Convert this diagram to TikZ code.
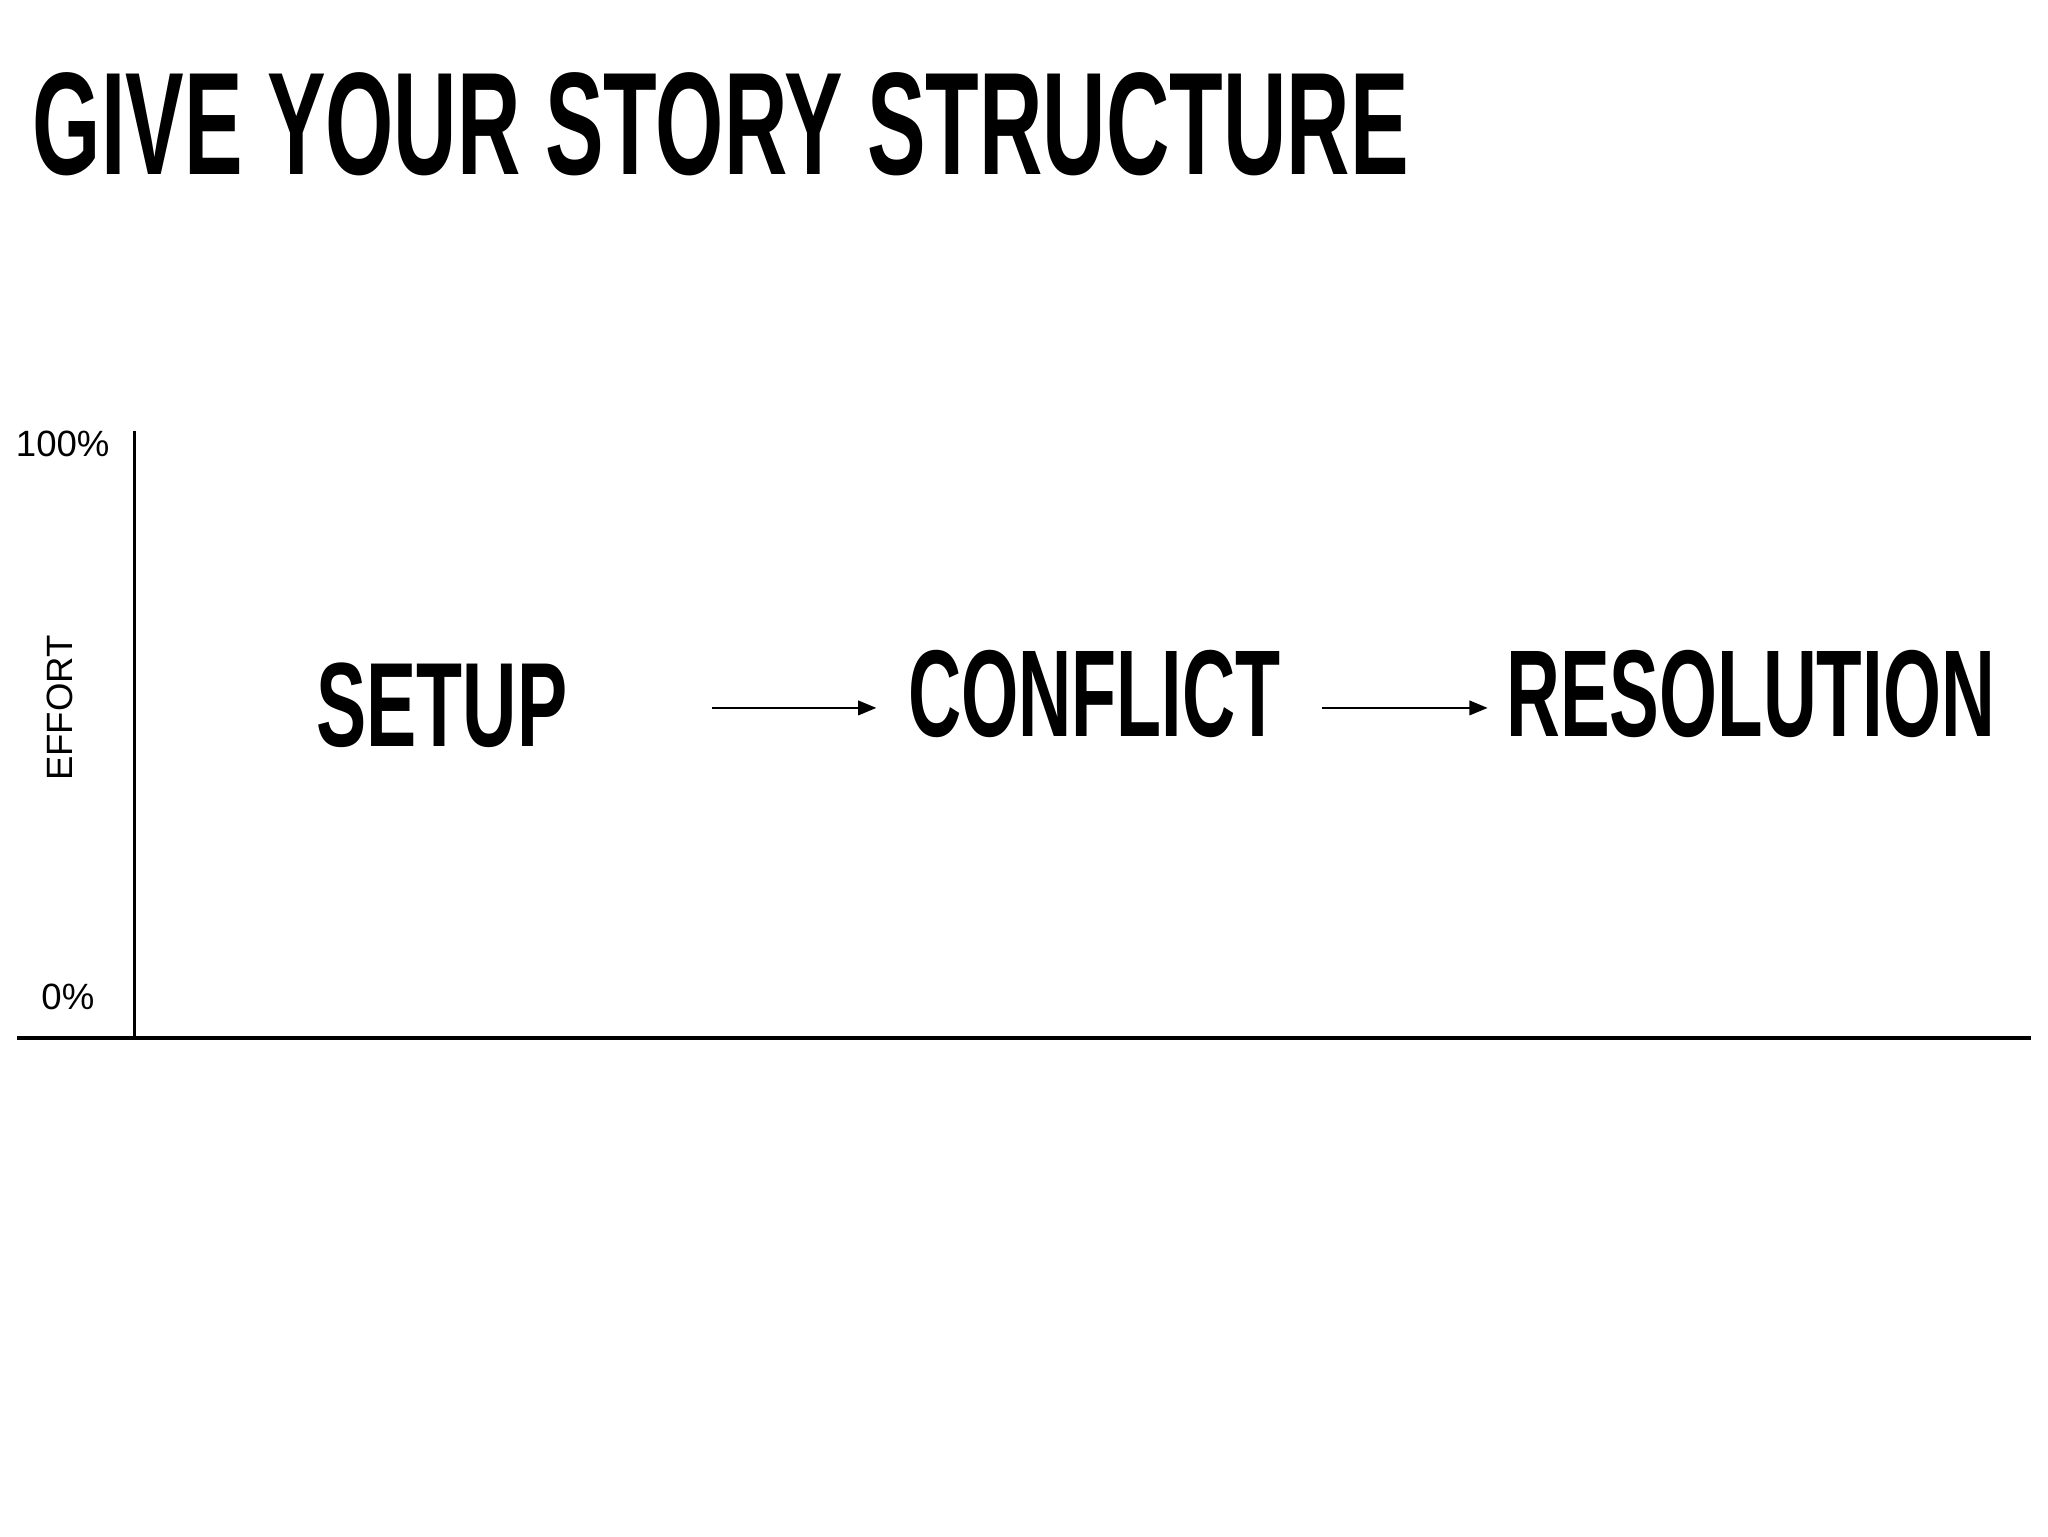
\documentclass[tikz,border=0pt]{standalone}
\usepackage{fontspec}
\setmainfont{Liberation Sans}
\usepackage{graphicx}
\usetikzlibrary{arrows.meta}
\tikzset{
  big/.style={inner sep=0pt, anchor=south west, font=\bfseries},
  small/.style={inner sep=0pt, font=\fontsize{28}{30}\selectfont},
  axis/.style={line width=3pt},
  flow/.style={line width=2pt, -{Triangle[length=14pt,width=11pt]}}
}
\newcommand{\fitbox}[3]{\resizebox{#1pt}{#2pt}{#3}}
\begin{document}
\begin{tikzpicture}[x=1pt,y=-1pt]
\useasboundingbox (0,0) rectangle (1568,1176);
\node[big] (title) at (25,135) {\fitbox{1053}{78}{GIVE YOUR STORY STRUCTURE}};
\coordinate (ytop) at (103,330);
\coordinate (orig) at (103,795);
\coordinate (xl) at (13,795);
\coordinate (xr) at (1555,795);
\draw[axis] (ytop) -- (orig);
\draw[axis] (xl) -- (xr);
\node[small] (p100) at (48,340) {100\%};
\node[small] (p0) at (52,763) {0\%};
\node[small, rotate=90] (eff) at (46,542) {EFFORT};
\node[big] (setup) at (242,573) {\fitbox{192}{64}{SETUP}};
\node[big] (conf) at (695,565) {\fitbox{285}{66}{CONFLICT}};
\node[big] (res) at (1153,565) {\fitbox{374}{66}{RESOLUTION}};
\coordinate (a1s) at (545,542);
\coordinate (a1e) at (671,542);
\coordinate (a2s) at (1012,542);
\coordinate (a2e) at (1139,542);
\draw[flow] (a1s) -- (a1e);
\draw[flow] (a2s) -- (a2e);
\end{tikzpicture}
\end{document}
